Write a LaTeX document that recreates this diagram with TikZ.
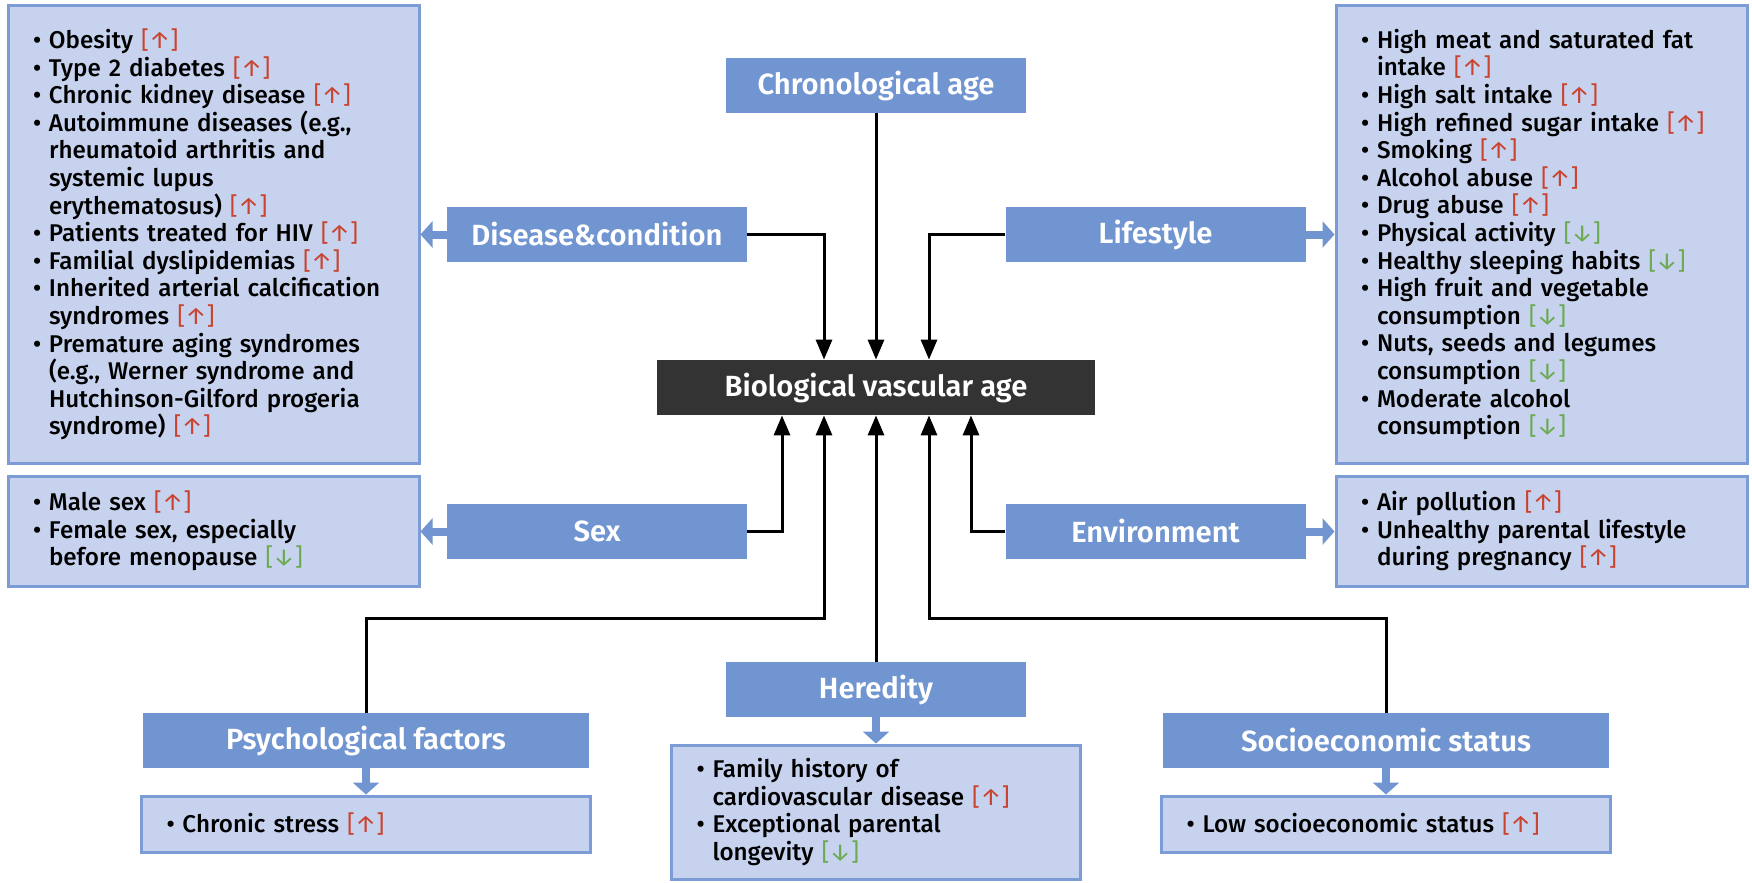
\documentclass[tikz,border=0pt]{standalone}
\usepackage{fontspec}
\setmainfont{Fira Sans}
\newfontfamily\markface{Fira Sans}
\IfFontExistsTF{Fira Sans Medium}
    {\newfontfamily\itemface{Fira Sans Medium}}
    {\newfontfamily\itemface{Fira Sans}}
\IfFontExistsTF{Fira Sans SemiBold}
    {\newfontfamily\titleface{Fira Sans SemiBold}}
    {\newfontfamily\titleface{Fira Sans}[UprightFont=*-Bold]}
\usetikzlibrary{positioning, arrows.meta}

\definecolor{hdrblue}{HTML}{7195D0}
\definecolor{listline}{HTML}{7C9CD6}
\definecolor{listblue}{HTML}{C6D2EE}
\definecolor{coregray}{HTML}{333333}
\definecolor{upred}{HTML}{C9432F}
\definecolor{downgreen}{HTML}{6BAA50}

\newcommand{\headfont}{\fontsize{14.6}{16}\selectfont\titleface}
\newcommand{\listfont}{\fontsize{12.1}{13.8}\selectfont\itemface}
\newcommand{\riskup}{\textcolor{upred}{\markface{[}↑{]}}}
\newcommand{\riskdown}{\textcolor{downgreen}{\markface{[}↓{]}}}
\newcommand{\bul}{\makebox[8pt][l]{\textbullet}}
\newcommand{\ind}{\hspace*{8pt}}

\begin{document}
\begin{tikzpicture}
    [x=0.5pt, y=-0.5pt,
    head/.style={
        fill=hdrblue,
        text=white,
        font=\headfont,
        minimum width=150pt,
        minimum height=27.5pt,
        inner sep=0pt
    },
    core/.style={head, fill=coregray, minimum width=219pt},
    wide/.style={head, minimum width=223pt},
    list/.style={
        draw=listline,
        line width=1.5pt,
        fill=listblue,
        inner xsep=12.5pt,
        inner ysep=0pt,
        align=left,
        font=\listfont
    },
    line/.style={
        draw, line width=1.5pt, -{Triangle[width=8pt,length=10pt]}
    },
    fat/.style={
        draw=hdrblue, line width=4pt, -{Triangle[width=13pt,length=6pt]}
    }
    ]

    \useasboundingbox (0,0) rectangle (1752,883);

    % Central node
    \node[core] (bva) at (876,387.5) {Biological vascular age};

    % Factor nodes
    \node[head] (chrono) at (876,85.5) {Chronological age};
    \node[head] (disease) at (597,234.5) {Disease\&condition};
    \node[head] (lifestyle) at (1155.5,234.5) {Lifestyle};
    \node[head] (sex) at (597,531.5) {Sex};
    \node[head] (env) at (1155.5,531.5) {Environment};
    \node[wide] (psych) at (366,740.5) {Psychological factors};
    \node[head] (hered) at (876,689.5) {Heredity};
    \node[wide] (socio) at (1386,740.5) {Socioeconomic status};

    % Lists
    \node[list, text width=180.5pt, minimum height=228.5pt] (dlist) at (213.5,234.5) {%
        \bul Obesity \riskup\\
        \bul Type 2 diabetes \riskup\\
        \bul Chronic kidney disease \riskup\\
        \bul Autoimmune diseases (e.g.,\\
        \ind rheumatoid arthritis and\\
        \ind systemic lupus\\
        \ind erythematosus) \riskup\\
        \bul Patients treated for HIV \riskup\\
        \bul Familial dyslipidemias \riskup\\
        \bul Inherited arterial calcification\\
        \ind syndromes \riskup\\
        \bul Premature aging syndromes\\
        \ind (e.g., Werner syndrome and\\
        \ind Hutchinson-Gilford progeria\\
        \ind syndrome) \riskup};
    \node[list, text width=180.5pt, minimum height=228.5pt] (llist) at (1541.5,234.5) {%
        \bul High meat and saturated fat\\
        \ind intake \riskup\\
        \bul High salt intake \riskup\\
        \bul High refined sugar intake \riskup\\
        \bul Smoking \riskup\\
        \bul Alcohol abuse \riskup\\
        \bul Drug abuse \riskup\\
        \bul Physical activity \riskdown\\
        \bul Healthy sleeping habits \riskdown\\
        \bul High fruit and vegetable\\
        \ind consumption \riskdown\\
        \bul Nuts, seeds and legumes\\
        \ind consumption \riskdown\\
        \bul Moderate alcohol\\
        \ind consumption \riskdown};
    \node[list, text width=180.5pt, minimum height=55pt] (slist) at (213.5,531) {%
        \bul Male sex \riskup\\
        \bul Female sex, especially\\
        \ind before menopause \riskdown};
    \node[list, text width=180.5pt, minimum height=55pt] (elist) at (1541.5,531) {%
        \bul Air pollution \riskup\\
        \bul Unhealthy parental lifestyle\\
        \ind during pregnancy \riskup};
    \node[list, text width=199.5pt, minimum height=28pt] (plist) at (366,824) {%
        \bul Chronic stress \riskup};
    \node[list, text width=179.5pt, minimum height=67pt] (hlist) at (876,812) {%
        \bul Family history of\\
        \ind cardiovascular disease \riskup\\
        \bul Exceptional parental\\
        \ind longevity \riskdown};
    \node[list, text width=199.5pt, minimum height=28pt] (solist) at (1386,824) {%
        \bul Low socioeconomic status \riskup};

    % Connectors into the central node
    \path [line] (chrono) -- (bva);
    \path [line] (disease.east) -| ([xshift=-26pt]bva.north);
    \path [line] (lifestyle.west) -| ([xshift=26.5pt]bva.north);
    \path [line] (sex.east) -| ([xshift=-47pt]bva.south);
    \path [line] (env.west) -| ([xshift=47.5pt]bva.south);
    \path [line] (hered) -- (bva);
    \foreach \src/\dx in {psych/-26pt, socio/26.5pt}{
        \path [line] (\src.north) -- ++(0,-94) -| ([xshift=\dx]bva.south);
    }

    % Fat arrows to the lists
    \path [fat] (disease.west) -- (disease.west -| dlist.east);
    \path [fat] (lifestyle.east) -- (lifestyle.east -| llist.west);
    \path [fat] (sex.west) -- (sex.west -| slist.east);
    \path [fat] (env.east) -- (env.east -| elist.west);
    \foreach \src/\dst in {psych/plist, hered/hlist, socio/solist}{
        \path [fat] (\src.south) -- (\dst.north);
    }
\end{tikzpicture}
\end{document}
